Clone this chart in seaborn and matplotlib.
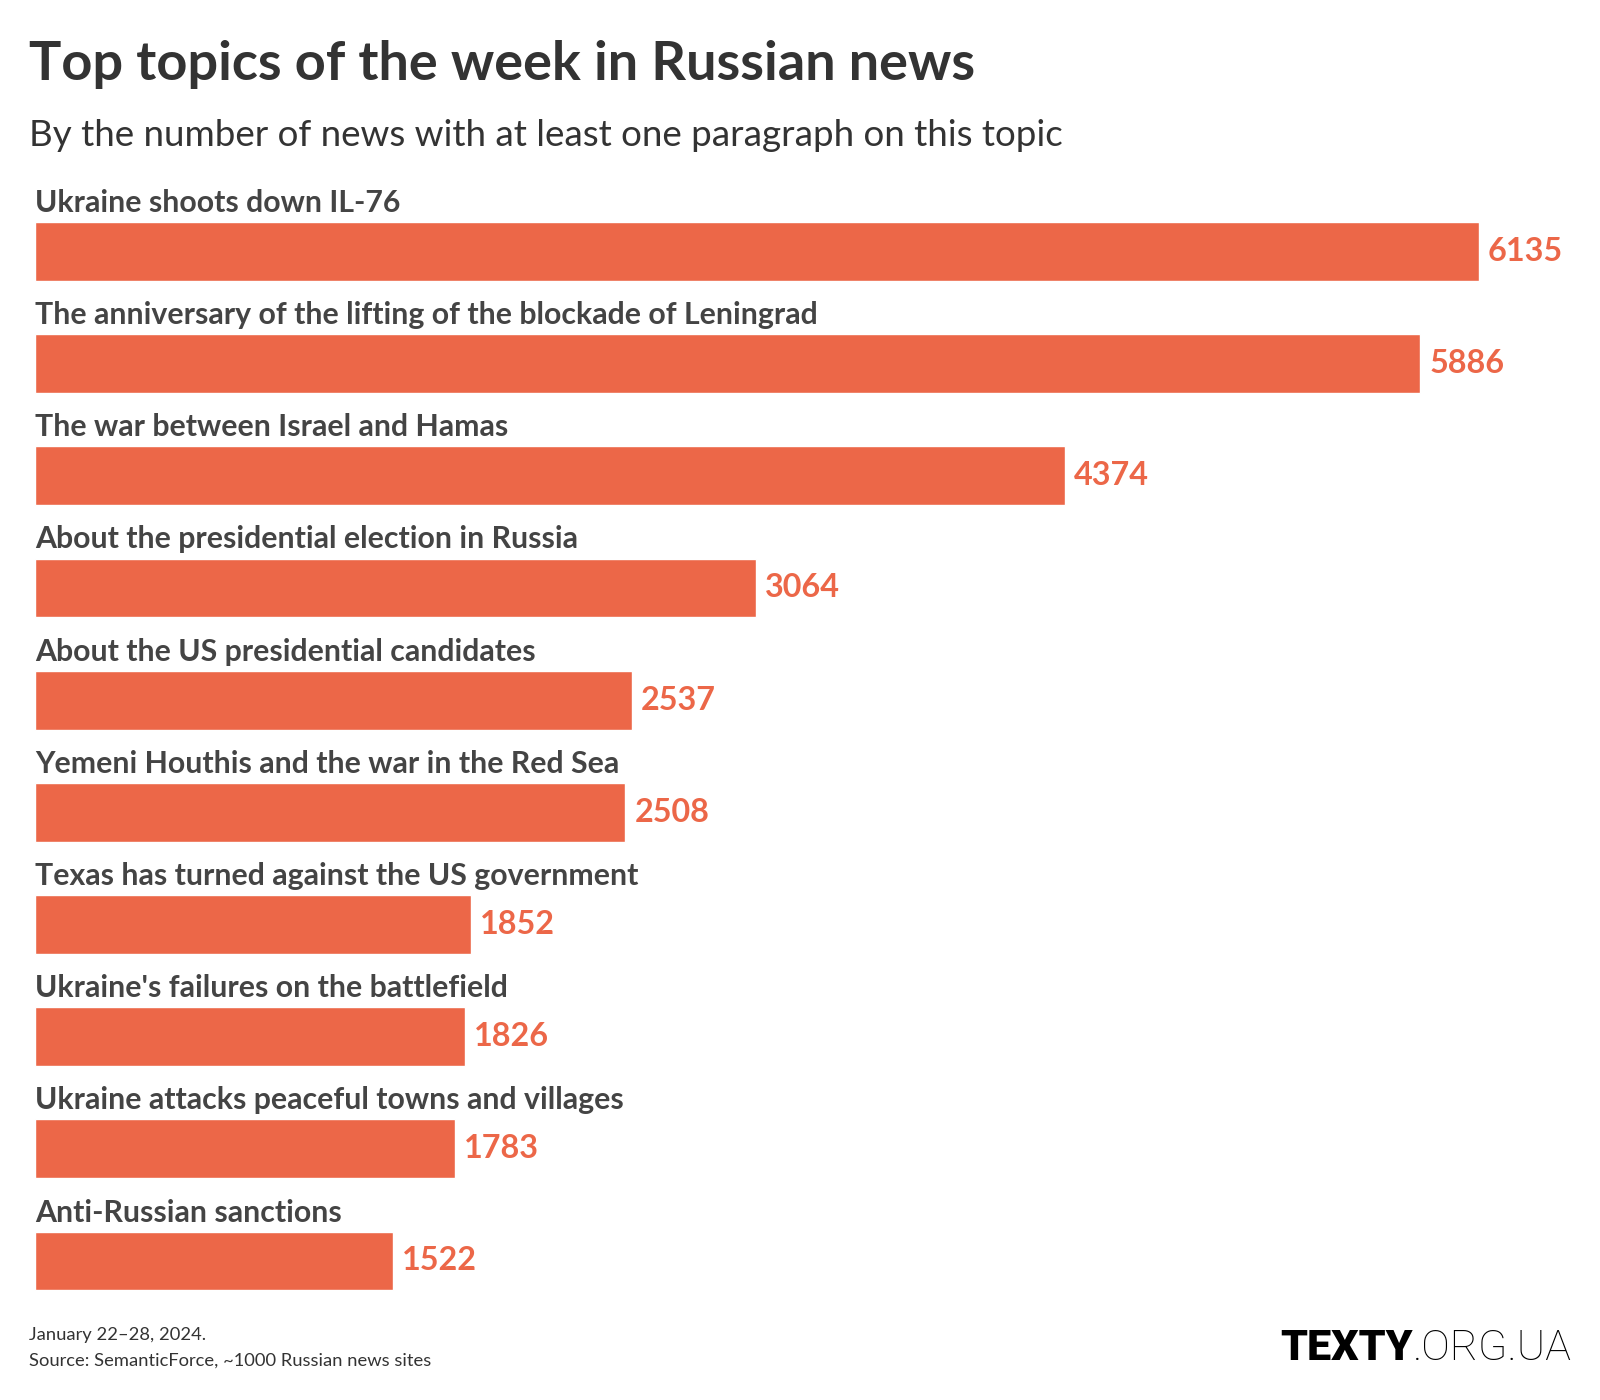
import matplotlib
matplotlib.use("Agg")
import matplotlib.pyplot as plt
import seaborn as sns
import pandas as pd

topics = [
    "Ukraine shoots down IL-76",
    "The anniversary of the lifting of the blockade of Leningrad",
    "The war between Israel and Hamas",
    "About the presidential election in Russia",
    "About the US presidential candidates",
    "Yemeni Houthis and the war in the Red Sea",
    "Texas has turned against the US government",
    "Ukraine's failures on the battlefield",
    "Ukraine attacks peaceful towns and villages",
    "Anti-Russian sanctions",
]
counts = [6135, 5886, 4374, 3064, 2537, 2508, 1852, 1826, 1783, 1522]

df = pd.DataFrame({"topic": topics, "count": counts})

bar_color = "#EC6748"
label_color = "#444444"
title_color = "#333333"

sns.set_theme(style="white")
plt.rcParams["font.family"] = ["Lato", "DejaVu Sans"]

fig = plt.figure(figsize=(16, 14), dpi=100)
W, H = 1600, 1400
# axes placed so bars start at x=35 and first/last bar centres land at 251 / 1261 px
ax = fig.add_axes([35 / W, 1 - 1328.3 / H, (1479 - 35) / W, (1328.3 - 150.5) / H])

sns.barplot(data=df, x="count", y="topic", color=bar_color, width=0.525,
            saturation=1, ax=ax, orient="h")
ax.set_xlim(0, max(counts))
ax.set_ylim(9.6, -0.9)
ax.set_axis_off()

for i, (t, c) in enumerate(zip(topics, counts)):
    ax.text(0, i - 0.352, t, ha="left", va="baseline", fontsize=21.8,
            fontweight="bold", color=label_color, clip_on=False)
    ax.annotate(str(c), (c, i), xytext=(9, 0), textcoords="offset pixels",
                ha="left", va="center", fontsize=23.3, fontweight="bold",
                color=bar_color, annotation_clip=False)

fig.text(29 / W, 1 - 80 / H, "Top topics of the week in Russian news",
         fontsize=39, fontweight="bold", color=title_color, va="baseline")
fig.text(29 / W, 1 - 146 / H,
         "By the number of news with at least one paragraph on this topic",
         fontsize=26.5, color=title_color, va="baseline")
fig.text(29 / W, 1 - 1340 / H, "January 22\u201328, 2024.",
         fontsize=13.2, color=title_color, va="baseline")
fig.text(29 / W, 1 - 1366 / H, "Source: SemanticForce, ~1000 Russian news sites",
         fontsize=13.2, color=title_color, va="baseline")

# logo: bold part + light part, placed side by side
t2 = fig.text(1572 / W, 1 - 1360 / H, ".ORG.UA", fontsize=31, family="Roboto",
              fontweight="light", color="#000000", ha="right", va="baseline")
fig.canvas.draw()
bb = t2.get_window_extent()
fig.text(bb.x0 / W, 1 - 1360 / H, "TEXTY", fontsize=31, family="Roboto",
         fontweight="black", color="#000000", ha="right", va="baseline")

fig.savefig("out.png", dpi=100, facecolor="white")
